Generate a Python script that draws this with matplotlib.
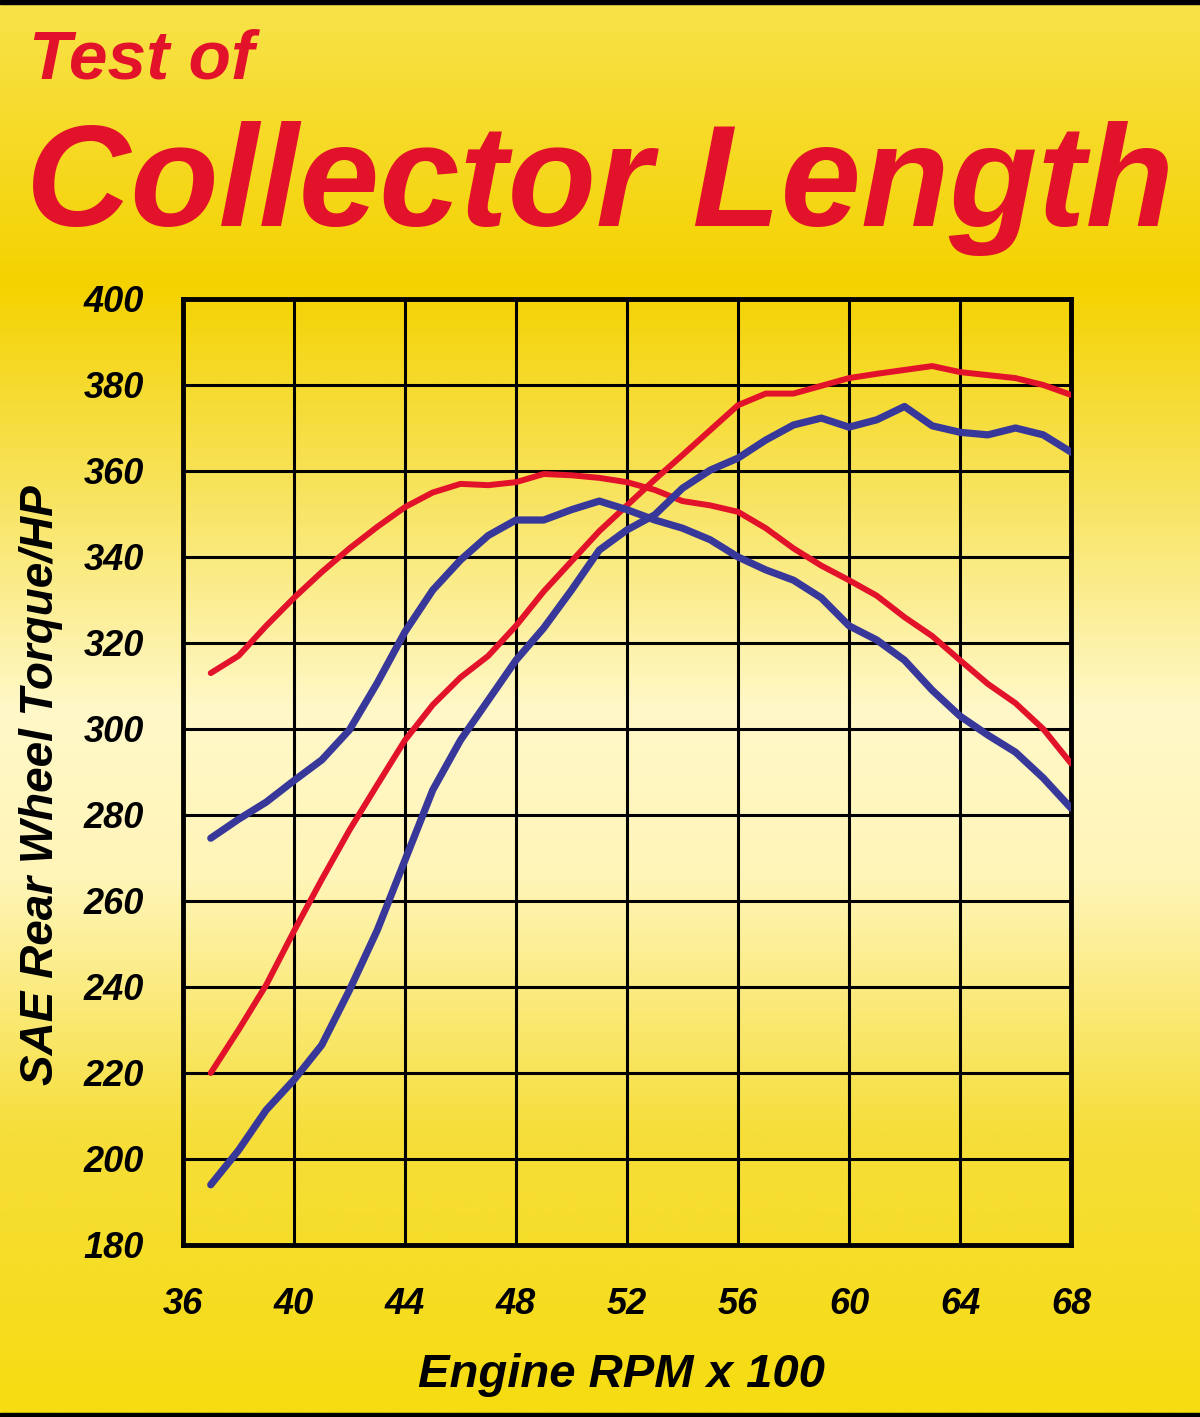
import matplotlib.pyplot as plt
import numpy as np
from matplotlib.colors import LinearSegmentedColormap

# engine rpm x 100
rpm = list(range(37, 69))

torque_red = [313, 317, 324, 330.5, 336.5, 342, 347, 351.6, 355, 357, 356.7, 357.4, 359.3, 359, 358.4, 357.4,
              355.6, 353, 352, 350.5, 346.7, 342, 338, 334.6, 331, 326, 321.6, 316, 310.5, 306, 300, 292]
torque_blue = [274.6, 279, 283, 288, 292.8, 299.8, 310.7, 322.6, 332.3, 339.3, 345, 348.6, 348.6, 351, 353, 351,
               348.6, 346.7, 344, 340, 337, 334.6, 330.5, 324, 320.7, 316, 309, 303, 298.6, 294.6, 288.6, 281.6]
hp_red = [220, 230, 240.5, 253, 265, 276.5, 287, 297.4, 305.6, 312, 317, 324, 332, 339, 346, 352,
          358, 363.7, 369.5, 375.3, 378, 378, 379.8, 381.6, 382.6, 383.5, 384.4, 383, 382.3, 381.6, 380, 377.7]
hp_blue = [194, 202, 211.4, 218.4, 226.5, 239.3, 253.2, 269.5, 285.8, 297.4, 306.7, 316, 323.5, 332.3, 341.6, 346.3,
           349.8, 356, 360.2, 363, 367.2, 370.7, 372.3, 370.2, 371.9, 375, 370.5, 369, 368.4, 370, 368.4, 364.4]

x_ticks = [36, 40, 44, 48, 52, 56, 60, 64, 68]
y_ticks = [180, 200, 220, 240, 260, 280, 300, 320, 340, 360, 380, 400]

RED = '#e3122b'
BLUE = '#38389a'
FONT = 'Liberation Sans'


def main():
    fig = plt.figure(figsize=(12, 14.17), dpi=100)

    # yellow background gradient
    bg = fig.add_axes([0, 0, 1, 1], zorder=-10)
    cmap = LinearSegmentedColormap.from_list('yel', [
        (0.0, '#f8e24a'), (0.2, '#f4d200'), (0.35, '#f8e460'),
        (0.5, '#fff8c8'), (0.62, '#fff5b8'), (0.8, '#f6de3a'), (1.0, '#f6dc10')])
    grad = np.linspace(0, 1, 512).reshape(-1, 1)
    bg.imshow(grad, aspect='auto', cmap=cmap, extent=[0, 1, 0, 1], origin='upper')
    bg.axis('off')
    # black borders top and bottom
    bg.axhspan(0.997, 1.0, color='black')
    bg.axhspan(0.0, 0.003, color='black')
    bg.set_xlim(0, 1)
    bg.set_ylim(0, 1)

    ax = fig.add_axes([0.1525, 0.1214, 0.74, 0.6676])
    ax.set_facecolor('none')

    ax.plot(rpm, torque_red, color=RED, lw=4.3, solid_capstyle='round', solid_joinstyle='round', zorder=3)
    ax.plot(rpm, hp_red, color=RED, lw=4.3, solid_capstyle='round', solid_joinstyle='round', zorder=3)
    ax.plot(rpm, torque_blue, color=BLUE, lw=5.2, solid_capstyle='round', solid_joinstyle='round', zorder=3)
    ax.plot(rpm, hp_blue, color=BLUE, lw=5.2, solid_capstyle='round', solid_joinstyle='round', zorder=3)

    ax.set_xlim(36, 68)
    ax.set_ylim(180, 400)
    ax.set_xticks(x_ticks)
    ax.set_yticks(y_ticks)
    ax.grid(True, color='black', lw=2.2)
    ax.set_axisbelow(True)
    for s in ax.spines.values():
        s.set_linewidth(3.5)
        s.set_color('black')
    ax.tick_params(length=0, pad=30)
    ax.tick_params(axis='y', pad=28)
    for lab in ax.get_xticklabels() + ax.get_yticklabels():
        lab.set_fontfamily(FONT)
        lab.set_fontsize(26)
        lab.set_fontweight('bold')
        lab.set_fontstyle('italic')

    fig.text(0.518, 0.0296, 'Engine RPM x 100', fontsize=34, fontweight='bold', fontstyle='italic',
             family=FONT, ha='center', va='center')
    fig.text(0.034, 0.446, 'SAE Rear Wheel Torque/HP', fontsize=33, fontweight='bold', fontstyle='italic',
             family=FONT, ha='center', va='center', rotation=90)

    fig.text(0.024, 0.957, 'Test of', color=RED, fontsize=50, fontweight='bold', fontstyle='italic',
             family=FONT, va='center', ha='left')
    fig.text(0.022, 0.867, 'Collector Length', color=RED, fontsize=104, fontweight='bold',
             fontstyle='italic', family=FONT, va='center', ha='left')

    fig.savefig('out.png', dpi=100)


main()
